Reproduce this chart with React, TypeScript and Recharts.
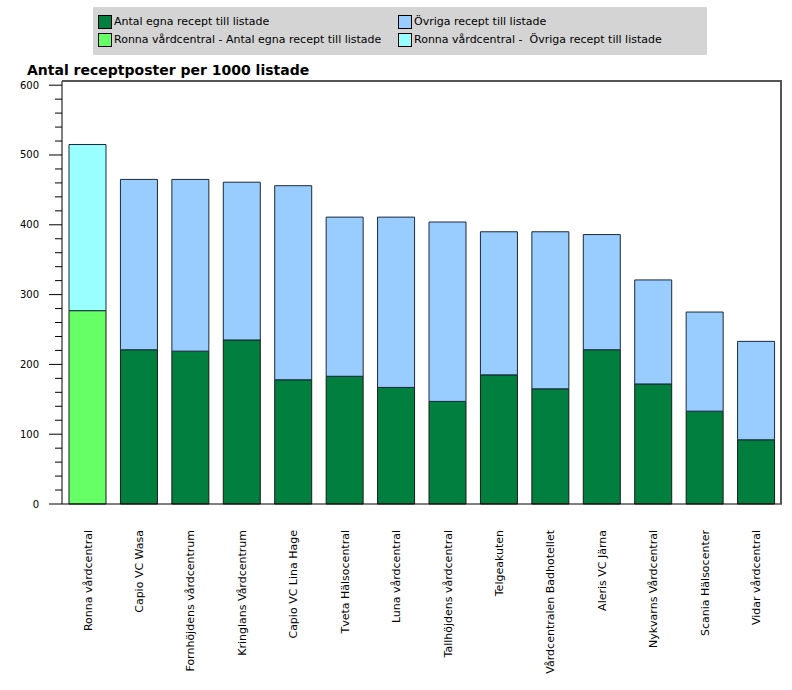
import React from "react";
import { Bar, BarChart, Cell, XAxis, YAxis } from "recharts";

const categories = [
  "Ronna vårdcentral",
  "Capio VC Wasa",
  "Fornhöjdens vårdcentrum",
  "Kringlans Vårdcentrum",
  "Capio VC Lina Hage",
  "Tveta Hälsocentral",
  "Luna vårdcentral",
  "Tallhöjdens vårdcentral",
  "Telgeakuten",
  "Vårdcentralen Badhotellet",
  "Aleris VC Järna",
  "Nykvarns Vårdcentral",
  "Scania Hälsocenter",
  "Vidar vårdcentral",
];

// receptposter per 1000 listade
const egna = [277, 221, 219, 235, 178, 183, 167, 147, 185, 165, 221, 172, 133, 92];
const ovriga = [238, 244, 246, 226, 278, 228, 244, 257, 205, 225, 165, 149, 142, 141];

const yTicks = [
  0, 20, 40, 60, 80, 100, 120, 140, 160, 180, 200, 220, 240, 260, 280, 300, 320, 340,
  360, 380, 400, 420, 440, 460, 480, 500, 520, 540, 560, 580, 600,
];
const majorTicks = [0, 100, 200, 300, 400, 500, 600];

const legendItems = [
  { label: "Antal egna recept till listade", color: "#007f3f" },
  { label: "Övriga recept till listade", color: "#99ccff" },
  { label: "Ronna vårdcentral - Antal egna recept till listade", color: "#66ff66" },
  { label: "Ronna vårdcentral -  Övriga recept till listade", color: "#99ffff" },
];

const HIGHLIGHT = "Ronna vårdcentral";
const FONT = "'DejaVu Sans', sans-serif";

const data = categories.map((name, i) => ({ name, egna: egna[i], ovriga: ovriga[i] }));

function YTick({ x, y, payload }: any) {
  const major = majorTicks.includes(payload.value);
  return (
    <g>
      <line x1={x - (major ? 13 : 7)} x2={x} y1={y} y2={y} stroke="#000" />
      {major && (
        <text x={x - 23} y={y} dy="0.35em" textAnchor="end" fontSize={10} fill="#000" fontFamily={FONT}>
          {payload.value}
        </text>
      )}
    </g>
  );
}

function XTick({ x, y, payload }: any) {
  return (
    <text
      transform={`translate(${x},${y + 26}) rotate(-90)`}
      dy="0.35em"
      textAnchor="end"
      fontSize={11}
      fill="#000"
      fontFamily={FONT}
    >
      {payload.value}
    </text>
  );
}

export default function App() {
  return (
    <div style={{ position: "absolute", left: 0, top: 0, width: 792, height: 690, background: "#fff" }}>
      <div
        style={{
          position: "absolute",
          left: 93,
          top: 7,
          width: 614,
          height: 48,
          background: "#d4d4d4",
          fontFamily: FONT,
          fontSize: 11,
        }}
      >
        {legendItems.map((item, i) => (
          <div
            key={item.label}
            style={{
              position: "absolute",
              left: i % 2 === 0 ? 5 : 305,
              top: i < 2 ? 8 : 26,
              display: "flex",
              alignItems: "center",
              whiteSpace: "pre",
              lineHeight: "14px",
            }}
          >
            <span
              style={{
                display: "inline-block",
                width: 14,
                height: 14,
                boxSizing: "border-box",
                border: "1px solid #000",
                background: item.color,
                marginRight: 2,
              }}
            />
            {item.label}
          </div>
        ))}
      </div>
      <div
        style={{
          position: "absolute",
          left: 27,
          top: 62,
          fontFamily: FONT,
          fontWeight: "bold",
          fontSize: 14,
          lineHeight: "17px",
          color: "#000",
        }}
      >
        Antal receptposter per 1000 listade
      </div>
      <div style={{ position: "absolute", left: 0, top: 0 }}>
        <BarChart
          width={792}
          height={690}
          data={data}
          margin={{ top: 81, right: 10, bottom: 0, left: 0 }}
          barSize={37}
        >
          <XAxis
            dataKey="name"
            type="category"
            height={186}
            interval={0}
            tickLine={false}
            tickSize={0}
            tickMargin={0}
            axisLine={{ stroke: "#000" }}
            tick={<XTick />}
          />
          <YAxis
            type="number"
            domain={[0, 606]}
            ticks={yTicks}
            interval={0}
            width={62}
            tickLine={false}
            tickSize={0}
            tickMargin={0}
            axisLine={{ stroke: "#000" }}
            tick={<YTick />}
          />
          <Bar
            dataKey="egna"
            name="Antal egna recept till listade"
            stackId="a"
            stroke="#1a1a1a"
            strokeWidth={1}
            isAnimationActive={false}
          >
            {data.map((d) => (
              <Cell key={d.name} fill={d.name === HIGHLIGHT ? "#66ff66" : "#007f3f"} />
            ))}
          </Bar>
          <Bar
            dataKey="ovriga"
            name="Övriga recept till listade"
            stackId="a"
            stroke="#1a2a3a"
            strokeWidth={1}
            isAnimationActive={false}
          >
            {data.map((d) => (
              <Cell key={d.name} fill={d.name === HIGHLIGHT ? "#99ffff" : "#99ccff"} />
            ))}
          </Bar>
        </BarChart>
      </div>
      {/* plot frame: top and right edges */}
      <div
        style={{
          position: "absolute",
          left: 62,
          top: 80,
          width: 720,
          height: 424,
          borderTop: "2px solid #555",
          borderRight: "2px solid #555",
          boxSizing: "border-box",
          pointerEvents: "none",
        }}
      />
    </div>
  );
}
